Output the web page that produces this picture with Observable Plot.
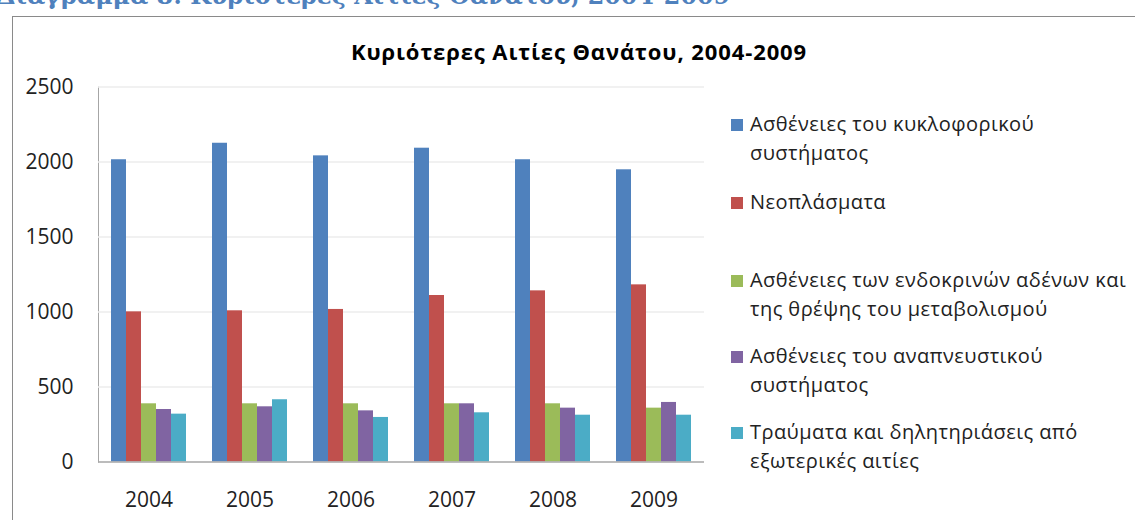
<!DOCTYPE html>
<html>
<head>
<meta charset="utf-8">
<script src="https://cdn.jsdelivr.net/npm/d3@7"></script>
<script src="https://cdn.jsdelivr.net/npm/@observablehq/plot@0.6"></script>
<style>
  html, body { margin: 0; padding: 0; background: #fff; }
  #page { position: relative; width: 1135px; height: 520px; overflow: hidden; background: #fff; }
  #header { position: absolute; left: -3px; top: -18px; white-space: nowrap;
    font-family: "DejaVu Serif", serif; font-weight: bold; font-size: 23.8px; color: #4F81BD; }
  #frame { position: absolute; left: 12px; top: 16px; width: 1300px; height: 700px;
    border: 1.5px solid #8a8a8a; box-sizing: border-box; }
  #title { position: absolute; left: 0; width: 1158px; top: 36px; text-align: center;
    font-family: "Open Sans", sans-serif; font-weight: bold; font-size: 22px; letter-spacing: 0.9px; color: #000; }
  #chart { position: absolute; left: 0; top: 0; }
  #chart text { fill: #222; }
  #legend { position: absolute; left: 731px; top: 0; font-family: "Open Sans", sans-serif;
    font-size: 20px; letter-spacing: 0.45px; color: #222; }
  .item { position: absolute; left: 0; white-space: nowrap; }
  .sw { position: absolute; left: 0; width: 12px; height: 12px; }
  .lbl { position: absolute; left: 19px; line-height: 29px; }
</style>
</head>
<body>
<div id="page">
  <div id="header"></div>
  <div id="frame"></div>
  <div id="chart"></div>
  <div id="title"></div>
  <div id="legend"></div>
</div>
<script>
const headerText = "Διάγραμμα 8: Κυριότερες Αιτίες Θανάτου, 2004-2009";
const chartTitle = "Κυριότερες Αιτίες Θανάτου, 2004-2009";
const years = ["2004", "2005", "2006", "2007", "2008", "2009"];
const causes = [
  "Ασθένειες του κυκλοφορικού συστήματος",
  "Νεοπλάσματα",
  "Ασθένειες των ενδοκρινών αδένων και της θρέψης του μεταβολισμού",
  "Ασθένειες του αναπνευστικού συστήματος",
  "Τραύματα και δηλητηριάσεις από εξωτερικές αιτίες"
];
const legendLines = [
  ["Ασθένειες του κυκλοφορικού", "συστήματος"],
  ["Νεοπλάσματα"],
  ["Ασθένειες των ενδοκρινών αδένων και", "της θρέψης του μεταβολισμού"],
  ["Ασθένειες του αναπνευστικού", "συστήματος"],
  ["Τραύματα και δηλητηριάσεις από", "εξωτερικές αιτίες"]
];
const colors = ["#4F81BD", "#C0504D", "#9BBB59", "#8064A2", "#4BACC6"];
const circulatory = [2015, 2125, 2041, 2092, 2015, 1948];
const neoplasms   = [1001, 1008, 1017, 1110, 1141, 1181];
const endocrine   = [388, 388, 388, 388, 388, 359];
const respiratory = [350, 368, 341, 388, 359, 397];
const injuries    = [319, 415, 297, 328, 312, 312];
const yTicks = [0, 500, 1000, 1500, 2000, 2500];

const series = [circulatory, neoplasms, endocrine, respiratory, injuries];
const data = [];
years.forEach((y, i) => causes.forEach((c, j) => data.push({year: y, cause: c, value: series[j][i]})));

document.getElementById("header").textContent = headerText;
document.getElementById("title").textContent = chartTitle;

const chart = Plot.plot({
  width: 720,
  height: 520,
  marginLeft: 98,
  marginRight: 16,
  marginTop: 86.5,
  marginBottom: 58.5,
  style: {fontFamily: "Open Sans, sans-serif", fontSize: "21px", color: "#a6a6a6", background: "transparent", overflow: "visible"},
  fx: {domain: years, padding: 0, label: null, tickSize: 0, tickPadding: 30},
  x: {domain: causes, paddingInner: 0, paddingOuter: 0.745, axis: null},
  y: {domain: [0, 2500], ticks: yTicks, tickFormat: d => String(d), tickSize: 0, tickPadding: 25, label: null, line: true},
  color: {domain: causes, range: colors},
  marks: [
    Plot.ruleY(yTicks.slice(1), {stroke: "#ececec", strokeWidth: 1.5}),
    Plot.barY(data, {fx: "year", x: "cause", y: "value", fill: "cause"}),
    Plot.ruleY([0], {stroke: "#a6a6a6", strokeWidth: 1.5})
  ]
});
document.getElementById("chart").appendChild(chart);

const legendTops = [110, 188, 266, 342, 418];
const legend = document.getElementById("legend");
legendLines.forEach((lines, i) => {
  const item = document.createElement("div");
  item.className = "item";
  item.style.top = legendTops[i] + "px";
  const sw = document.createElement("div");
  sw.className = "sw";
  sw.style.background = colors[i];
  sw.style.top = "9px";
  const lbl = document.createElement("div");
  lbl.className = "lbl";
  lbl.style.top = "-1px";
  lbl.innerHTML = lines.join("<br>");
  item.appendChild(sw);
  item.appendChild(lbl);
  legend.appendChild(item);
});
</script>
</body>
</html>
